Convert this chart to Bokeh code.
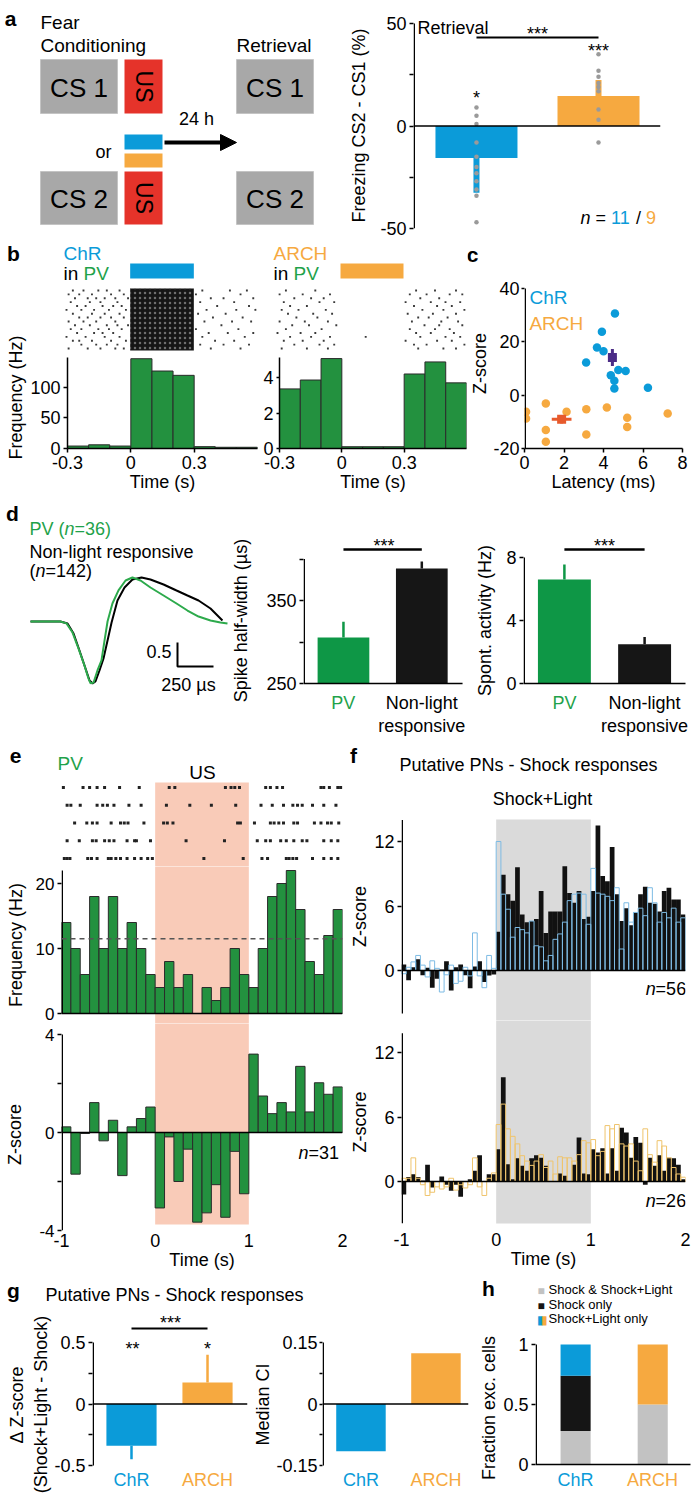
import math
from bokeh.plotting import figure
from bokeh.models import (Range1d, LinearAxis, FixedTicker, Label, Span, Arrow,
                          NormalHead, CustomJSTickFormatter)
from bokeh.layouts import row, column
from bokeh.embed import file_html
from bokeh.resources import INLINE

# ============================================================ data
# (a) freezing difference CS2 - CS1 at retrieval
freeze_groups = ["ChR", "ARCH"]
freeze_mean = [-15.6, 14.6]
freeze_err = [16.9, 7.9]
freeze_chr = [9, 5, 1, -8, -15, -20, -23, -27, -31, -34, -47]
freeze_arch = [35, 27, 24, 21, 19, 17, 8, 3, -8]

# (b) PV cell PSTHs, 0.1 s bins
b_bin_start = [-0.3, -0.2, -0.1, 0.0, 0.1, 0.2, 0.3, 0.4, 0.5]
chr_psth = [4, 6, 4, 146, 126, 119, 3, 2, 2]
arch_psth = [3.36, 3.86, 5.07, 0.1, 0.1, 0.1, 4.2, 4.88, 3.7]
light_on, light_off = 0.0, 0.3
chr_raster = [
    "-0.27 -0.22 -0.15 -0.11 -0.05 0.34 0.47 0.55",
    "-0.29 -0.24 -0.18 -0.09 -0.03 0.31 0.52",
    "-0.26 -0.20 -0.16 -0.12 -0.07 -0.01 0.38 0.44 0.58",
    "-0.28 -0.19 -0.14 -0.06 0.33 0.49",
    "-0.25 -0.21 -0.13 -0.08 -0.04 0.41 0.56",
    "-0.30 -0.23 -0.17 -0.10 -0.02 0.36 0.50 0.59",
    "-0.27 -0.18 -0.12 -0.05 0.32 0.45",
    "-0.24 -0.20 -0.14 -0.09 -0.03 0.39 0.53",
    "-0.29 -0.22 -0.16 -0.07 0.35 0.48 0.57",
    "-0.26 -0.19 -0.11 -0.06 -0.01 0.43",
    "-0.28 -0.23 -0.15 -0.10 -0.04 0.31 0.51",
    "-0.25 -0.17 -0.13 -0.08 0.37 0.46 0.58",
    "-0.30 -0.21 -0.12 -0.05 0.34 0.54",
    "-0.27 -0.24 -0.18 -0.09 -0.02 0.40 0.49",
    "-0.23 -0.16 -0.11 -0.06 0.33 0.44 0.56",
    "-0.29 -0.20 -0.14 -0.07 -0.03 0.38 0.52",
]
arch_raster = [
    "-0.26 -0.12 0.36 0.45 0.55",
    "-0.29 -0.18 -0.05 0.33 0.41 0.52 0.58",
    "-0.22 -0.14 -0.08 0.38 0.47",
    "-0.27 -0.10 -0.03 0.31 0.43 0.50 0.57",
    "-0.24 -0.16 0.35 0.46 0.53",
    "-0.28 -0.20 -0.07 0.39 0.49 0.59",
    "-0.25 -0.13 -0.04 0.32 0.44 0.55",
    "-0.21 -0.11 0.37 0.42 0.51",
    "-0.29 -0.17 -0.06 0.34 0.48 0.56",
    "-0.23 -0.15 -0.02 0.40 0.47 0.58",
    "-0.26 -0.09 0.33 0.45 0.52",
    "-0.30 -0.19 -0.12 0.36 0.43 0.54",
    "-0.24 -0.14 -0.05 0.12 0.38 0.50 0.57",
    "-0.27 -0.18 -0.08 0.31 0.46 0.53",
    "-0.22 -0.10 -0.03 0.35 0.41 0.59",
    "-0.28 -0.16 -0.06 0.37 0.49 0.55",
]

# (c) latency vs z-score
chr_lat = [4.58, 3.92, 3.67, 4.0, 3.12, 4.75, 5.12, 4.37, 4.55, 4.55, 6.25]
chr_z = [30.6, 23.75, 17.9, 16.5, 12.25, 9.4, 9.1, 7.5, 5.4, 2.5, 2.75]
arch_lat = [0.08, 0.08, 1.08, 1.08, 1.08, 2.13, 3.13, 3.13, 4.17, 5.2, 5.2, 7.25]
arch_z = [-6.25, -8.75, -3.1, -13.1, -17.5, -6.25, -5.25, -14.75, -4.6, -8.5, -11.9, -6.9]
chr_mean = [4.45, 14.1]
chr_sem = [0.2, 3.2]
arch_mean = [1.88, -9.0]
arch_sem = [0.5, 1.6]

# (d) waveforms (ms, normalised amplitude) and bar summaries
wf_pv_t = [0, 0.208, 0.25, 0.292, 0.333, 0.375, 0.403, 0.417, 0.438, 0.465, 0.493, 0.514, 0.535,
           0.569, 0.611, 0.660, 0.708, 0.764, 0.833, 0.924, 1.014, 1.090, 1.167, 1.25, 1.319, 1.368]
wf_pv = [0, 0, -0.04, -0.23, -0.56, -0.92, -1.19, -1.29, -1.27, -1.02, -0.81, -0.40, 0,
         0.375, 0.65, 0.854, 0.917, 0.854, 0.708, 0.542, 0.375, 0.229, 0.104, 0.021, -0.021, -0.042]
wf_non_t = [0, 0.208, 0.257, 0.299, 0.340, 0.382, 0.410, 0.431, 0.451, 0.479, 0.507, 0.535,
            0.563, 0.604, 0.653, 0.708, 0.771, 0.833, 0.924, 1.014, 1.090, 1.167, 1.250, 1.333]
wf_non = [0, 0, -0.042, -0.25, -0.604, -0.979, -1.229, -1.292, -1.25, -1.021, -0.771, -0.396,
          -0.021, 0.4375, 0.708, 0.875, 0.917, 0.875, 0.771, 0.646, 0.542, 0.4375, 0.271, 0.021]
scale_t, scale_amp = 0.25, 0.5
halfwidth_mean = [305.4, 388.5]
halfwidth_err = [19, 8.4]
spont_mean = [6.6, 2.5]
spont_err = [0.95, 0.45]

# (e) PV responses to US, 0.1 s bins
e_bin_start = [-1.0, -0.9, -0.8, -0.7, -0.6, -0.5, -0.4, -0.3, -0.2, -0.1,
               0.0, 0.1, 0.2, 0.3, 0.4, 0.5, 0.6, 0.7, 0.8, 0.9,
               1.0, 1.1, 1.2, 1.3, 1.4, 1.5, 1.6, 1.7, 1.8, 1.9]
e_freq = [14, 10, 6, 18, 10, 18, 10, 14, 10, 6, 4, 8, 4, 6, 0, 4, 2, 4, 10, 6,
          4, 10, 18, 20, 22, 16, 8, 6, 12, 16]
e_baseline = 11.5
e_z = [0.23, -1.7, -0.04, 1.22, -0.34, 0.5, -1.76, 0.23, 0.57, 1.04,
       -3.08, -0.18, -2.0, -0.68, -3.66, -3.28, -2.13, -3.46, -0.77, -2.5,
       3.2, 1.49, 0.77, 1.22, 0.84, 2.7, 0.84, 2.03, 1.56, 1.86]
e_raster = [
    "-0.98 -0.77 -0.70 -0.62 -0.54 -0.38 -0.17 0.15 0.21 0.75 0.81 0.85 0.90 1.18 1.23 1.30 1.36 1.77 1.80 1.86 1.95 1.98",
    "-0.94 -0.90 -0.80 -0.62 -0.56 -0.51 -0.44 -0.28 -0.15 0.12 0.37 0.60 0.86 1.13 1.25 1.37 1.47 1.52 1.57 1.68 1.80 1.93",
    "-0.86 -0.73 -0.67 -0.62 -0.47 -0.37 -0.33 -0.29 -0.12 0.09 0.13 0.19 0.88 0.91 1.06 1.23 1.27 1.32 1.37 1.48 1.52 1.70 1.77 1.84 1.88 1.96",
    "-0.94 -0.81 -0.67 -0.63 -0.54 -0.49 -0.44 -0.30 -0.22 -0.20 -0.05 0.33 0.74 1.09 1.18 1.23 1.34 1.40 1.48 1.57 1.62 1.80 1.88 1.95",
    "-0.97 -0.94 -0.91 -0.72 -0.68 -0.62 -0.50 -0.47 -0.42 -0.37 -0.30 -0.22 -0.15 -0.08 -0.03 0.52 0.94 1.14 1.20 1.40 1.43 1.47 1.51 1.68 1.80 1.88 1.95",
]
us_on, us_off = 0.0, 1.0

# (f) putative PNs, 0.05 s bins
f_bin_start = [-1.0, -0.95, -0.9, -0.85, -0.8, -0.75, -0.7, -0.65, -0.6, -0.55,
               -0.5, -0.45, -0.4, -0.35, -0.3, -0.25, -0.2, -0.15, -0.1, -0.05,
               0.0, 0.05, 0.1, 0.15, 0.2, 0.25, 0.3, 0.35, 0.4, 0.45,
               0.5, 0.55, 0.6, 0.65, 0.7, 0.75, 0.8, 0.85, 0.9, 0.95,
               1.0, 1.05, 1.1, 1.15, 1.2, 1.25, 1.3, 1.35, 1.4, 1.45,
               1.5, 1.55, 1.6, 1.65, 1.7, 1.75, 1.8, 1.85, 1.9, 1.95]
f_chr_shock = [0.55, -0.9, 0.3, 1.05, -0.45, 0.25, -1.6, -0.77, 0.1, 0.86,
               -1.85, 0.3, 0.55, -0.45, -1.65, 0.37, 0.86, -1.07, -0.46, -0.37,
               3.6, 8.9, 7.1, 6.5, 9.6, 5.2, 4.5, 4.6, 4.8, 7.4,
               3.5, 5.5, 5.5, 5.5, 9.7, 7.2, 6.3, 7.4, 4.8, 5.0,
               7.4, 13.5, 8.8, 8.3, 11.5, 7.1, 4.6, 5.8, 4.2, 5.4,
               7.1, 7.8, 6.3, 6.2, 5.5, 7.4, 7.7, 6.6, 6.6, 5.2]
f_chr_light = [-0.3, 0.3, 0.8, 1.4, 0.5, -0.6, 0.9, 0.2, -2.0, -0.4,
               0.5, -1.2, -1.0, 0.3, -0.5, 3.5, -0.5, -1.6, 1.4, 0.2,
               12.0, 7.1, 5.7, 3.1, 4.0, 3.8, 3.5, 4.6, 2.3, 2.2,
               0.9, 1.4, 2.9, 3.4, 4.5, 6.5, 7.1, 7.2, 7.1, 4.3,
               9.5, 7.2, 7.1, 6.9, 6.5, 7.7, 2.0, 6.3, 4.5, 5.4,
               5.8, 5.1, 7.7, 6.3, 4.5, 5.4, 4.9, 5.8, 4.5, 4.9]
f_arch_shock = [-1.2, 0.43, 0.68, 0.43, 0.1, 1.55, -0.55, 0.05, 0.46, -0.3,
                -0.87, -0.3, -1.42, 0.05, 0.2, 1.0, 2.45, 0.05, 0.68, 0.68,
                3.0, 9.7, 1.6, 0.2, 2.17, 1.46, 1.0, 2.17, 2.45, 2.2,
                1.46, 0.0, 0.0, 0.74, 0.53, 0.0, 1.55, 4.1, 0.74, 0.68,
                3.0, 2.7, 3.1, 0.74, 3.1, 1.0, 5.0, 4.55, 2.2, 4.15,
                3.6, -0.3, 2.2, 1.46, 2.45, 1.0, 2.2, 2.17, 1.55, 0.2]
f_arch_light = [0.3, 0.3, 2.2, 0.3, -0.3, -1.3, -1.0, -0.5, -0.7, -0.5,
                0.3, -0.8, -0.3, -0.6, -0.3, 2.2, -0.5, -1.3, 0.3, 0.8,
                5.3, 7.2, 4.9, 4.2, 3.5, 2.4, 1.9, 1.5, 1.9, 2.5,
                1.3, 1.9, 0.7, 2.3, 2.2, 2.2, 1.9, 2.5, 3.8, 3.6,
                3.9, 2.4, 2.8, 5.2, 4.9, 5.3, 3.5, 3.3, 3.5, 1.9,
                1.0, 4.9, 2.5, 1.8, 3.8, 3.3, 2.2, 1.3, 0.7, 0.4]
shock_on, shock_off = 0.0, 1.0

# (g) light effect on shock responses
g_groups = ["ChR", "ARCH"]
dz_mean = [-0.34, 0.175]
dz_err = [0.11, 0.225]
median_ci = [-0.115, 0.124]

# (h) fraction of excited cells
h_groups = ["ChR", "ARCH"]
frac_both = [0.28, 0.5]
frac_shock_only = [0.46, 0.0]
frac_light_only = [0.26, 0.5]

# ============================================================ style
FONT = "Liberation Sans"
BLUE = "#0B9BD9"
ORANGE = "#F6A940"
GREEN = "#23913F"
GREEN_T = "#1FA24A"
DGREEN = "#0E9746"
GRAY = "#A8A8A8"
RED = "#E5332A"
SALMON = "#F9CBB8"
SHADE = "#DADADA"
PURPLE = "#4B2C86"
REDOR = "#E75A2C"
DOTGRAY = "#9A9A9A"
BARLINE = "#2B2B2B"
NB = "\u00a0"

AW = {' ': 278, NB: 278, '(': 333, ')': 333, '=': 584, '/': 278, 'n': 556, 'P': 667, 'V': 667, 'i': 222}


def tw(s, size):
    return sum(AW.get(ch, 556) for ch in s) * size / 1000.0


class Pane:
    """A figure whose frame sits at a given box of the page (page pixels)."""

    def __init__(self, ox, oy, w, h, frame=None, xmap=(0, 0, 1, 1), ymap=(0, 0, 1, 1)):
        if frame is None:
            frame = (ox, oy, ox + w, oy + h)
        X0, Y0, X1, Y1 = frame
        self.X0, self.X1 = X0, X1
        self.xm = xmap
        self.ym = ymap
        self.fig = figure(width=w, height=h,
                          x_range=Range1d(self.fx(X0), self.fx(X1)),
                          y_range=Range1d(self.fy(Y1), self.fy(Y0)),
                          min_border_left=X0 - ox, min_border_right=ox + w - X1,
                          min_border_top=Y0 - oy, min_border_bottom=oy + h - Y1,
                          output_backend="svg", toolbar_location=None, tools="",
                          x_axis_type=None, y_axis_type=None)
        if "frame_align" in self.fig.properties():
            self.fig.frame_align = False
        self.fig.outline_line_color = None
        self.fig.background_fill_color = "white"
        self.fig.border_fill_color = "white"

    def fx(self, X):
        Xa, xa, Xb, xb = self.xm
        return xa + (X - Xa) * (xb - xa) / (Xb - Xa)

    def fy(self, Y):
        Ya, ya, Yb, yb = self.ym
        return ya + (Y - Ya) * (yb - ya) / (Yb - Ya)


def T(P, X, Y, s, size=18, color="black", align="left", base="middle", angle=0.0, style="normal"):
    P.fig.add_layout(Label(x=P.fx(X), y=P.fy(Y), text=s, text_font=FONT,
                           text_font_size=f"{size}px", text_color=color, text_align=align,
                           text_baseline=base, angle=angle, text_font_style=style))


def RT(P, X, Y, parts, size=18):
    for s, color, style in parts:
        T(P, X, Y, s.replace(" ", NB), size, color, style=style)
        X += tw(s, size)


def add_axis(P, side, ticks, minor=(), label=None, label_standoff=0, size=18, line=True,
             marks=True, standoff=3, tick_out=4):
    ax = LinearAxis(ticker=FixedTicker(ticks=list(ticks), minor_ticks=list(minor)),
                    formatter=CustomJSTickFormatter(code="return String(tick)"))
    ax.major_label_text_font = FONT
    ax.major_label_text_font_size = f"{size}px"
    ax.major_label_text_color = "black"
    ax.major_label_standoff = standoff
    ax.axis_line_color = "black" if line else None
    ax.axis_line_width = 1.5
    ax.major_tick_in = 0
    ax.minor_tick_in = 0
    ax.major_tick_out = tick_out if marks else 0
    ax.minor_tick_out = tick_out if marks else 0
    ax.major_tick_line_color = "black" if marks else None
    ax.minor_tick_line_color = "black" if marks else None
    ax.major_tick_line_width = 1.5
    ax.minor_tick_line_width = 1.5
    if label is not None:
        ax.axis_label = label
        ax.axis_label_text_font = FONT
        ax.axis_label_text_font_size = "18px"
        ax.axis_label_text_font_style = "normal"
        ax.axis_label_text_color = "black"
        ax.axis_label_standoff = label_standoff
    P.fig.add_layout(ax, side)
    return ax


def yline(P, y0, y1):
    x = P.fx(P.X0 + 0.75)
    P.fig.segment(x0=[x], y0=[y0], x1=[x], y1=[y1], line_color="black", line_width=1.5)


def xline(P, y, X0, X1):
    P.fig.segment(x0=[P.fx(X0)], y0=[y], x1=[P.fx(X1)], y1=[y], line_color="black", line_width=1.5)


def hline0(P, loc=0):
    P.fig.add_layout(Span(location=loc, dimension="width", line_color="black", line_width=1.5))


def raster(P, rows, Ytop, Ybot, size, color="#2a2a2a"):
    n = len(rows)
    xs, ys = [], []
    for i, r in enumerate(rows):
        vals = [float(v) for v in r.split()]
        y = P.fy(Ytop + (Ybot - Ytop) * i / max(n - 1, 1))
        xs += vals
        ys += [y] * len(vals)
    P.fig.scatter(x=xs, y=ys, marker="square", size=size, fill_color=color, line_color=None)


ROT = math.pi / 2

# ============================================================ row 1 : panel a  (y 0-240)
a1 = Pane(0, 0, 345, 240)
f = a1.fig
cs_boxes = [(40, 59, 117, 113, "CS 1"), (236, 59, 313, 113, "CS 1"),
            (40, 171, 117, 224, "CS 2"), (236, 171, 313, 224, "CS 2")]
us_boxes = [(124, 59, 162, 113), (124, 171, 162, 224)]
light_boxes = [(124, 134, 162, 149, BLUE), (124, 153, 162, 167, ORANGE)]
f.quad(left=[b[0] for b in cs_boxes], right=[b[2] for b in cs_boxes],
       top=[b[1] for b in cs_boxes], bottom=[b[3] for b in cs_boxes],
       fill_color=GRAY, line_color="#C4C4C4")
f.quad(left=[b[0] for b in us_boxes], right=[b[2] for b in us_boxes],
       top=[b[1] for b in us_boxes], bottom=[b[3] for b in us_boxes],
       fill_color=RED, line_color=None)
f.quad(left=[b[0] for b in light_boxes], right=[b[2] for b in light_boxes],
       top=[b[1] for b in light_boxes], bottom=[b[3] for b in light_boxes],
       fill_color=[b[4] for b in light_boxes], line_color=None)
for b in cs_boxes:
    T(a1, (b[0] + b[2]) / 2, (b[1] + b[3]) / 2 + 1, b[4], 26, align="center")
for b in us_boxes:
    T(a1, (b[0] + b[2]) / 2, (b[1] + b[3]) / 2, "US", 23, align="center", angle=-ROT)
f.add_layout(Arrow(end=NormalHead(size=16, fill_color="black", line_color="black", line_width=1),
                   x_start=164, y_start=142, x_end=236, y_end=142, line_width=4, line_color="black"))
T(a1, 10, 18, "a", 21, align="center", style="bold")
T(a1, 40, 22, "Fear", 19)
T(a1, 40, 45, "Conditioning", 19)
T(a1, 236, 45, "Retrieval", 19)
T(a1, 103, 151, "or", 18, align="center")
T(a1, 196, 118, "24 h", 18, align="center")

a2 = Pane(345, 0, 346, 240, frame=(413, 12, 660, 228),
          xmap=(413, 0.484, 660, 2.508), ymap=(228, -50, 23, 50))
f = a2.fig
add_axis(a2, "left", [-50, 0, 50], minor=[-25, 25], line=False,
         label="Freezing CS2 - CS1 (%)" + NB * 2, label_standoff=8)
yline(a2, -50, 50)
f.vbar(x=[1, 2], top=freeze_mean, bottom=0, width=0.672, fill_color=[BLUE, ORANGE], line_color=None)
f.segment(x0=[1, 2], y0=freeze_mean, x1=[1, 2],
          y1=[m + math.copysign(e, m) for m, e in zip(freeze_mean, freeze_err)],
          line_color=[BLUE, ORANGE], line_width=6)
hline0(a2)
f.scatter(x=[1] * len(freeze_chr), y=freeze_chr, size=4.5, fill_color=DOTGRAY, line_color=None)
f.scatter(x=[2] * len(freeze_arch), y=freeze_arch, size=4.5, fill_color=DOTGRAY, line_color=None)
f.line(x=[1, 2], y=[a2.fy(37)] * 2, line_color="black", line_width=2)
T(a2, 537, 33.5, "***", 18, align="center")
T(a2, 476, 97.5, "*", 18, align="center")
T(a2, 598, 50.5, "***", 18, align="center")
T(a2, 417, 27, "Retrieval", 18)
RT(a2, 580, 217, [("n", "black", "italic"), (" = ", "black", "normal"), ("11", BLUE, "normal"),
                  (" / ", "black", "normal"), ("9", ORANGE, "normal")])

# ============================================================ row 2 : panels b, c  (y 240-500)
bs = Pane(0, 240, 27, 260)
T(bs, 13, 253, "b", 21, align="center", style="bold")
T(bs, 15, 397, "Frequency (Hz)", 18, align="center", angle=ROT)

b1r = Pane(27, 240, 233, 117, xmap=(66, -0.3, 257, 0.6))
f = b1r.fig
f.quad(left=[light_on], right=[light_off], top=[263], bottom=[278], fill_color=BLUE, line_color=None)
f.quad(left=[light_on], right=[light_off], top=[288], bottom=[350], fill_color="#151515",
       line_color=None, hatch_pattern="dot", hatch_color="#6e6e6e", hatch_scale=5, hatch_weight=1)
raster(b1r, chr_raster, 290, 348, 1.9, color="#3a3a3a")
T(b1r, 63, 253, "ChR", 19, color=BLUE)
RT(b1r, 63, 273, [("in ", "black", "normal"), ("PV", GREEN_T, "normal")], 19)

b1h = Pane(27, 357, 233, 143, frame=(66, 357, 257, 448),
           xmap=(66, -0.3, 257, 0.6), ymap=(448, 0, 357, 148))
f = b1h.fig
f.quad(left=b_bin_start, right=[s + 0.1 for s in b_bin_start], bottom=0, top=chr_psth,
       fill_color=GREEN, line_color=BARLINE, line_width=1)
add_axis(b1h, "left", [0, 50, 100])
add_axis(b1h, "below", [-0.3, 0, 0.3], label="Time (s)", label_standoff=0)

b2r = Pane(260, 240, 207, 117, xmap=(277, -0.3, 466, 0.6))
f = b2r.fig
f.quad(left=[light_on], right=[light_off], top=[263], bottom=[278], fill_color=ORANGE, line_color=None)
raster(b2r, arch_raster, 290, 348, 1.9, color="#3a3a3a")
T(b2r, 273, 253, "ARCH", 19, color=ORANGE)
RT(b2r, 273, 273, [("in ", "black", "normal"), ("PV", GREEN_T, "normal")], 19)

b2h = Pane(260, 357, 207, 143, frame=(277, 357, 466, 448),
           xmap=(277, -0.3, 466, 0.6), ymap=(448, 0, 357, 5.13))
f = b2h.fig
f.quad(left=b_bin_start, right=[s + 0.1 for s in b_bin_start], bottom=0, top=arch_psth,
       fill_color=GREEN, line_color=BARLINE, line_width=1)
add_axis(b2h, "left", [0, 2, 4], tick_out=3, standoff=3)
add_axis(b2h, "below", [-0.3, 0, 0.3], label="Time (s)", label_standoff=0)

ch = Pane(467, 240, 224, 38)
T(ch, 472, 254, "c", 21, align="center", style="bold")

c = Pane(467, 278, 224, 222, frame=(522, 278, 682, 448),
         xmap=(522, 0, 682, 8), ymap=(448, -20, 288, 40))
f = c.fig
f.scatter(x=chr_lat, y=chr_z, size=8.5, fill_color=BLUE, line_color=None)
f.scatter(x=arch_lat, y=arch_z, size=8.5, fill_color=ORANGE, line_color=None)
for m, e, col in [(chr_mean, chr_sem, PURPLE), (arch_mean, arch_sem, REDOR)]:
    f.segment(x0=[m[0] - e[0], m[0]], y0=[m[1], m[1] - e[1]], x1=[m[0] + e[0], m[0]], y1=[m[1], m[1] + e[1]],
              line_color=col, line_width=3)
    f.scatter(x=[m[0]], y=[m[1]], marker="square", size=9, fill_color=col, line_color=None)
add_axis(c, "left", [-20, 0, 20, 40], line=False, label="Z-score", label_standoff=0,
         tick_out=3, standoff=2)
yline(c, -20, 40)
add_axis(c, "below", [0, 2, 4, 6, 8], label="Latency (ms)", label_standoff=0)
T(c, 527, 297, "ChR", 19, color=BLUE)
T(c, 527, 323, "ARCH", 19, color=ORANGE)

# ============================================================ row 3 : panel d  (y 500-740)
d1 = Pane(0, 500, 228, 240, xmap=(30, 0, 174, 1), ymap=(621, 0, 573, 1))
f = d1.fig
f.line(x=wf_non_t, y=wf_non, line_color="black", line_width=2)
f.line(x=wf_pv_t, y=wf_pv, line_color="#2DAA4C", line_width=2)
sx0, sy0 = d1.fx(177), d1.fy(666)
f.line(x=[sx0, sx0, sx0 + scale_t], y=[sy0 + scale_amp, sy0, sy0], line_color="black", line_width=2)
T(d1, 12, 513, "d", 21, align="center", style="bold")
RT(d1, 29, 528, [("PV (", GREEN_T, "normal"), ("n", GREEN_T, "italic"), ("=36)", GREEN_T, "normal")])
T(d1, 29, 551, "Non-light responsive", 18)
RT(d1, 29, 570, [("(", "black", "normal"), ("n", "black", "italic"), ("=142)", "black", "normal")])
T(d1, 171, 651, "0.5", 18, align="right")
T(d1, 188, 684, "250 µs", 18, align="center")

d2 = Pane(228, 500, 242, 240, frame=(302, 500, 470, 740),
          xmap=(302, 0.49, 462, 2.52), ymap=(683, 250, 600, 350))
f = d2.fig
f.vbar(x=[1, 2], top=halfwidth_mean, bottom=250, width=0.66, fill_color=[DGREEN, "#161616"], line_color=None)
f.segment(x0=[1, 2], y0=halfwidth_mean, x1=[1, 2], y1=[m + e for m, e in zip(halfwidth_mean, halfwidth_err)],
          line_color=[DGREEN, "#161616"], line_width=2.5)
add_axis(d2, "left", [250, 350], minor=[300, 400], line=False,
         label="Spike half-width (µs)", label_standoff=12)
yline(d2, 250, 400)
xline(d2, 250, 302, 462)
f.line(x=[1, 2], y=[d2.fy(549)] * 2, line_color="black", line_width=2.5)
T(d2, 383, 545.5, "***", 18, align="center")
T(d2, 342, 702, "PV", 18, color=GREEN_T, align="center")
T(d2, 421, 702, "Non-light", 18, align="center")
T(d2, 421, 725, "responsive", 18, align="center")

d3 = Pane(470, 500, 221, 240, frame=(523, 500, 691, 740),
          xmap=(523, 0.49, 685, 2.51), ymap=(683, 0, 557, 8))
f = d3.fig
f.vbar(x=[1, 2], top=spont_mean, bottom=0, width=0.66, fill_color=[DGREEN, "#161616"], line_color=None)
f.segment(x0=[1, 2], y0=spont_mean, x1=[1, 2], y1=[m + e for m, e in zip(spont_mean, spont_err)],
          line_color=[DGREEN, "#161616"], line_width=2.5)
add_axis(d3, "left", [0, 4, 8], line=False, label="Spont. activity (Hz)", label_standoff=8)
yline(d3, 0, 8)
xline(d3, 0, 523, 685)
f.line(x=[1, 2], y=[d3.fy(549)] * 2, line_color="black", line_width=2.5)
T(d3, 604, 545.5, "***", 18, align="center")
T(d3, 564, 702, "PV", 18, color=GREEN_T, align="center")
T(d3, 644, 702, "Non-light", 18, align="center")
T(d3, 644, 725, "responsive", 18, align="center")

# ============================================================ row 4 : panels e, f  (y 740-1275)
er = Pane(0, 740, 347, 126, xmap=(61, -1, 342, 2))
f = er.fig
f.quad(left=[us_on], right=[us_off], top=[782], bottom=[870], fill_color=SALMON, line_color=None)
raster(er, e_raster, 787, 858, 3, color="#222222")
T(er, 15, 755, "e", 21, align="center", style="bold")
T(er, 57, 763, "PV", 19, color=GREEN_T)
T(er, 202, 772, "US", 19, align="center")

ef = Pane(0, 866, 347, 157, frame=(61, 866, 342, 1023),
          xmap=(61, -1, 342, 2), ymap=(1013, 0, 948, 10))
f = ef.fig
f.quad(left=[us_on], right=[us_off], top=[ef.fy(860)], bottom=[ef.fy(1030)], fill_color=SALMON, line_color=None)
f.quad(left=e_bin_start, right=[s + 0.1 for s in e_bin_start], bottom=0, top=e_freq,
       fill_color=GREEN, line_color=BARLINE, line_width=1)
f.add_layout(Span(location=e_baseline, dimension="width", line_color="#555555", line_width=1.5, line_dash="5 4"))
xline(ef, 0, 61, 342)
add_axis(ef, "left", [0, 10, 20], line=False, label="Frequency (Hz)", label_standoff=7, size=17)
yline(ef, 0, 22)

ez = Pane(0, 1023, 347, 252, frame=(61, 1023, 342, 1230),
          xmap=(61, -1, 342, 2), ymap=(1230, -4, 1132, 0))
f = ez.fig
f.quad(left=[us_on], right=[us_off], top=[ez.fy(1015)], bottom=[ez.fy(1224)], fill_color=SALMON, line_color=None)
f.quad(left=e_bin_start, right=[s + 0.1 for s in e_bin_start], bottom=0, top=e_z,
       fill_color=GREEN, line_color=BARLINE, line_width=1)
hline0(ez)
add_axis(ez, "left", [-4, 0, 4], minor=[-2, 2], line=False,
         label="Z-score" + NB * 3, label_standoff=11, size=17)
yline(ez, -4, 4)
add_axis(ez, "below", [-1, 0, 1, 2], line=False, marks=False, standoff=3,
         label="Time (s)", label_standoff=0)
RT(ez, 298, 1152, [("n", "black", "italic"), ("=31", "black", "normal")])

fh = Pane(347, 740, 344, 72)
T(fh, 353, 755, "f", 21, align="center", style="bold")
T(fh, 528, 764, "Putative PNs - Shock responses", 18, align="center")
T(fh, 542, 798, "Shock+Light", 18, align="center")

ft = Pane(347, 812, 344, 208, frame=(400, 812, 685, 1020),
          xmap=(400, -1, 685, 2), ymap=(970, 0, 905.5, 6))
f = ft.fig
f.quad(left=[shock_on], right=[shock_off], top=[ft.fy(819)], bottom=[ft.fy(1025)], fill_color=SHADE, line_color=None)
f.quad(left=f_bin_start, right=[s + 0.05 for s in f_bin_start], bottom=0, top=f_chr_shock,
       fill_color="#111111", line_color=None)
f.quad(left=f_bin_start, right=[s + 0.05 for s in f_bin_start], bottom=0, top=f_chr_light,
       fill_color=None, line_color="#7DBBE4", line_width=1)
hline0(ft)
add_axis(ft, "left", [0, 6, 12], line=False, label="Z-score", label_standoff=1)
yline(ft, -4, 14)
RT(ft, 645, 988, [("n", "black", "italic"), ("=56", "black", "normal")])

fb = Pane(347, 1020, 344, 255, frame=(400, 1020, 685, 1223),
          xmap=(400, -1, 685, 2), ymap=(1181, 0, 1116.5, 6))
f = fb.fig
f.quad(left=[shock_on], right=[shock_off], top=[fb.fy(1015)], bottom=[fb.fy(1224)], fill_color=SHADE, line_color=None)
f.quad(left=f_bin_start, right=[s + 0.05 for s in f_bin_start], bottom=0, top=f_arch_shock,
       fill_color="#111111", line_color=None)
f.quad(left=f_bin_start, right=[s + 0.05 for s in f_bin_start], bottom=0, top=f_arch_light,
       fill_color=None, line_color="#EFC46C", line_width=1)
hline0(fb)
add_axis(fb, "left", [0, 6, 12], line=False, label="Z-score", label_standoff=1)
yline(fb, fb.fy(1223), 13.8)
add_axis(fb, "below", [-1, 0, 1, 2], line=False, marks=False, standoff=9,
         label="Time (s)", label_standoff=0)
RT(fb, 645, 1200, [("n", "black", "italic"), ("=26", "black", "normal")])

# ============================================================ row 5 : panels g, h  (y 1275-1498)
gh = Pane(0, 1275, 470, 35)
T(gh, 13, 1290, "g", 21, align="center", style="bold")
T(gh, 45, 1294, "Putative PNs - Shock responses", 18)

g1 = Pane(0, 1310, 250, 188, frame=(92, 1310, 247, 1498),
          xmap=(92, 0.487, 247, 2.526), ymap=(1465, -0.5, 1342, 0.5))
f = g1.fig
f.vbar(x=[1, 2], top=dz_mean, bottom=0, width=0.66, fill_color=[BLUE, ORANGE], line_color=None)
f.segment(x0=[1, 2], y0=dz_mean, x1=[1, 2], y1=[m + math.copysign(e, m) for m, e in zip(dz_mean, dz_err)],
          line_color=[BLUE, ORANGE], line_width=2.5)
hline0(g1)
add_axis(g1, "left", [-0.5, 0, 0.5], minor=[-0.25, 0.25], line=False,
         label="Δ Z-score\n(Shock+Light - Shock)", label_standoff=0)
yline(g1, -0.5, 0.5)
f.line(x=[1, 2], y=[g1.fy(1328)] * 2, line_color="black", line_width=2)
T(g1, 170, 1322.5, "***", 18, align="center")
T(g1, 132, 1348.5, "**", 18, align="center")
T(g1, 207, 1348.5, "*", 18, align="center")
T(g1, 131, 1479, "ChR", 18, color=BLUE, align="center")
T(g1, 207, 1479, "ARCH", 18, color=ORANGE, align="center")

g2 = Pane(250, 1310, 220, 188, frame=(320, 1310, 468, 1498),
          xmap=(320, 0.487, 468, 2.434), ymap=(1465, -0.15, 1342, 0.15))
f = g2.fig
f.vbar(x=[1, 2], top=median_ci, bottom=0, width=0.66, fill_color=[BLUE, ORANGE], line_color=None)
hline0(g2)
add_axis(g2, "left", [-0.15, 0, 0.15], minor=[-0.075, 0.075], line=False,
         label="Median CI", label_standoff=0, tick_out=3, standoff=2)
yline(g2, -0.15, 0.15)
T(g2, 359, 1479, "ChR", 18, color=BLUE, align="center")
T(g2, 435, 1479, "ARCH", 18, color=ORANGE, align="center")

hh = Pane(470, 1275, 221, 52)
T(hh, 488, 1288, "h", 21, align="center", style="bold")
T(hh, 537, 1290, "■", 12, color="#C2C2C2")
T(hh, 537, 1305, "■", 12, color="#151515")
T(hh, 536, 1319, "▮", 12, color=BLUE)
T(hh, 540, 1319, "▮", 12, color=ORANGE)
T(hh, 548, 1289, "Shock & Shock+Light", 13)
T(hh, 548, 1304, "Shock only", 13)
T(hh, 548, 1318, "Shock+Light only", 13)

h = Pane(470, 1327, 221, 171, frame=(535, 1327, 691, 1498),
         xmap=(535, 0.48, 690, 2.49), ymap=(1464, 0, 1344, 1))
f = h.fig
top1 = frac_both
top2 = [a + b for a, b in zip(frac_both, frac_shock_only)]
top3 = [a + b for a, b in zip(top2, frac_light_only)]
f.vbar(x=[1, 2], bottom=0, top=top1, width=0.39, fill_color="#C2C2C2", line_color=None)
f.vbar(x=[1, 2], bottom=top1, top=top2, width=0.39, fill_color="#151515", line_color=None)
f.vbar(x=[1, 2], bottom=top2, top=top3, width=0.39, fill_color=[BLUE, ORANGE], line_color=None)
add_axis(h, "left", [0, 0.5, 1], line=False, label=NB * 2 + "Fraction exc. cells", label_standoff=1)
yline(h, 0, 1)
xline(h, 0, 535, 690)
T(h, 575, 1479, "ChR", 18, color=BLUE, align="center")
T(h, 652, 1479, "ARCH", 18, color=ORANGE, align="center")

# ============================================================ layout
layout = column(
    row(a1.fig, a2.fig),
    row(bs.fig, column(b1r.fig, b1h.fig), column(b2r.fig, b2h.fig), column(ch.fig, c.fig)),
    row(d1.fig, d2.fig, d3.fig),
    row(column(er.fig, ef.fig, ez.fig), column(fh.fig, ft.fig, fb.fig)),
    row(column(gh.fig, row(g1.fig, g2.fig)), column(hh.fig, h.fig)),
)

open("out.html", "w").write(file_html(layout, INLINE))
